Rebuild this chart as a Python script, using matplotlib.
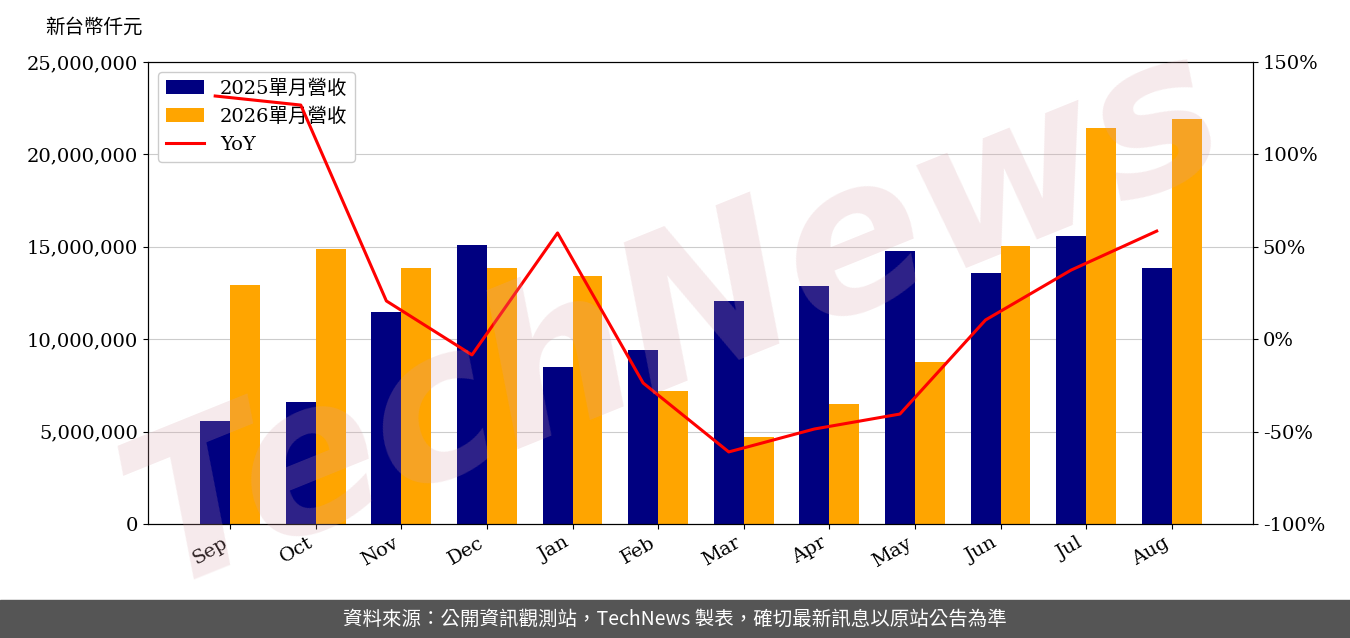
import matplotlib
matplotlib.use("Agg")
import matplotlib.pyplot as plt
import numpy as np

months = ["Sep","Oct","Nov","Dec","Jan","Feb","Mar","Apr","May","Jun","Jul","Aug"]
rev_2025 = [5600000,6600000,11450000,15100000,8500000,9400000,12050000,12900000,14750000,13600000,15600000,13850000]
rev_2026 = [12950000,14900000,13850000,13850000,13400000,7200000,4700000,6500000,8750000,15050000,21450000,21900000]
yoy = [131.6,126.7,20.7,-8.5,57.5,-23.7,-61.0,-48.6,-40.5,10.4,37.4,58.5]

fam = ['DejaVu Serif','Noto Sans CJK TC']
plt.rcParams['font.family'] = fam
fig = plt.figure(figsize=(13.5,6.38), dpi=100)
ax = fig.add_axes([148/1350, 1-524/638, 1105/1350, 462/638])
x = np.arange(len(months))
w = 0.35
ax.bar(x-w/2, rev_2025, w, color='#000080', label='2025單月營收', zorder=2)
ax.bar(x+w/2, rev_2026, w, color='#FFA500', label='2026單月營收', zorder=2)
ax.set_xlim(-0.96, 11.95)
ax.set_ylim(0, 25000000)
ax.set_yticks(np.arange(0, 25000001, 5000000))
ax.yaxis.set_major_formatter(matplotlib.ticker.FuncFormatter(lambda v,p: f"{int(v):,}"))
ax.grid(axis='y', color='#cccccc', zorder=0)
ax.set_xticks(x)
ax.set_xticklabels(months, rotation=30, ha='right')
ax.tick_params(labelsize=14)
ax2 = ax.twinx()
ln, = ax2.plot(x-w/2, yoy, color='red', lw=2.2, label='YoY')
ax2.set_ylim(-100, 150)
ax2.set_yticks(np.arange(-100, 151, 50))
ax2.yaxis.set_major_formatter(matplotlib.ticker.FuncFormatter(lambda v,p: f"{int(v)}%"))
ax2.tick_params(labelsize=14)
h1,l1 = ax.get_legend_handles_labels()
ax.set_zorder(ax2.get_zorder()-1)
ax.patch.set_visible(True)
ax2.patch.set_visible(False)
ax.legend(h1+[ln], l1+['YoY'], loc='upper left', fontsize=14, framealpha=1)
fig.text(45/1350, 1-27/638, '新台幣仟元', fontsize=14, va='center')
fig.text(0.5, 0.5, 'TechNews', fontsize=150, color='#d8a0a8', alpha=0.22, rotation=22,
         ha='center', va='center', style='italic', weight='bold', family='DejaVu Sans')
fig.patches.append(matplotlib.patches.Rectangle((0,0),1,38/638, transform=fig.transFigure, color='#555555'))
fig.text(0.5, 19/638, '資料來源：公開資訊觀測站，TechNews 製表，確切最新訊息以原站公告為準',
         color='white', fontsize=14, ha='center', va='center', family=['Noto Sans CJK TC','DejaVu Sans'])
fig.savefig('out.png')
